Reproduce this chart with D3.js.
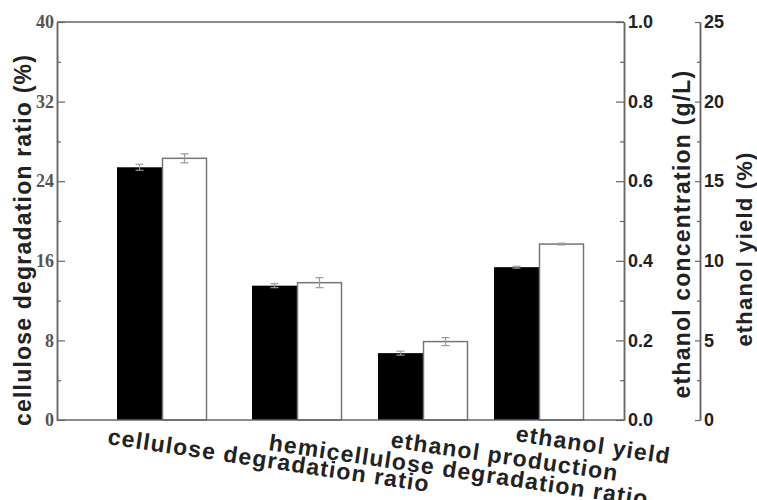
<!DOCTYPE html>
<html><head><meta charset="utf-8">
<script src="https://cdn.jsdelivr.net/npm/d3@7"></script>
<style>body{margin:0;background:#fff;}svg{display:block;}</style>
</head><body>
<svg id="c" width="757" height="500"></svg>
<script>
// ---- data ----
const categories = ["cellulose degradation ratio","hemicellulose degradation ratio","ethanol production","ethanol yield"];
const axisOf = ["ratio","ratio","conc","yield"];
const seriesA = [25.4, 13.5, 0.168, 9.6];     // black bars
const seriesB = [26.3, 13.8, 0.197, 11.05];   // white bars
const errA = [0.3, 0.2, 0.005, 0.06];
const errB = [0.45, 0.5, 0.01, 0.05];
const ratioTicks = [0, 8, 16, 24, 32, 40];
const concTicks = [0.0, 0.2, 0.4, 0.6, 0.8, 1.0];
const yieldTicks = [0, 5, 10, 15, 20, 25];

// ---- layout ----
const L = 57, R = 624, T = 22, B = 420, Y3 = 700;
const groupCenters = [162, 297, 423, 539];
const barW = 45;
const labelPos = [[107, 444], [268, 450], [390, 447], [515, 441]];

const svg = d3.select("#c");
const x = d3.scaleOrdinal().domain(categories).range(groupCenters);
const yRatio = d3.scaleLinear().domain([0, 40]).range([B, T]);
const yConc = d3.scaleLinear().domain([0, 1]).range([B, T]);
const yYield = d3.scaleLinear().domain([0, 25]).range([B, T]);
const scales = {ratio: yRatio, conc: yConc, yield: yYield};

const axisColor = "#666";

// bars
const rows = categories.map((c, i) => ({c, i, s: scales[axisOf[i]]}));
const g = svg.append("g");
rows.forEach(r => {
  const s = r.s, cx = x(r.c);
  g.append("rect").attr("x", cx - barW).attr("width", barW)
    .attr("y", s(seriesA[r.i])).attr("height", B - s(seriesA[r.i]))
    .attr("fill", "#000");
  g.append("rect").attr("x", cx + 0.5).attr("width", barW - 1)
    .attr("y", s(seriesB[r.i])).attr("height", B - s(seriesB[r.i]))
    .attr("fill", "#fff").attr("stroke", "#777").attr("stroke-width", 1.5);
  // error bars
  [[cx - barW / 2, seriesA[r.i], errA[r.i]], [cx + barW / 2, seriesB[r.i], errB[r.i]]].forEach(([ex, v, e]) => {
    const y1 = s(v + e), y2 = s(v - e);
    g.append("line").attr("x1", ex).attr("x2", ex).attr("y1", y1).attr("y2", y2).attr("stroke", "#999").attr("stroke-width", 1.2);
    [y1, y2].forEach(yy => g.append("line").attr("x1", ex - 4).attr("x2", ex + 4).attr("y1", yy).attr("y2", yy).attr("stroke", "#999").attr("stroke-width", 1.2));
  });
});

// frame
svg.append("line").attr("x1", L).attr("x2", R).attr("y1", T).attr("y2", T).attr("stroke", axisColor).attr("stroke-width", 1.5);
svg.append("line").attr("x1", L).attr("x2", R).attr("y1", B).attr("y2", B).attr("stroke", axisColor).attr("stroke-width", 1.5);

function styleAxis(sel) {
  sel.select(".domain").attr("stroke", axisColor).attr("stroke-width", 1.5);
  sel.selectAll(".tick line").attr("stroke", axisColor).attr("stroke-width", 1.2);
}

// left axis
const la = svg.append("g").attr("transform", `translate(${L},0)`)
  .call(d3.axisLeft(yRatio).tickValues(d3.range(4, 40, 8)).tickSizeInner(-4).tickSizeOuter(0).tickFormat(""));
styleAxis(la);
const lb = svg.append("g").attr("transform", `translate(${L},0)`)
  .call(d3.axisLeft(yRatio).tickValues(ratioTicks).tickSizeInner(-8).tickSizeOuter(0).tickPadding(3));
styleAxis(lb);
lb.selectAll("text").attr("font-family", "Liberation Serif").attr("font-weight", "bold").attr("font-size", 18).attr("fill", "#555");

// right axis (concentration)
const ra = svg.append("g").attr("transform", `translate(${R},0)`)
  .call(d3.axisRight(yConc).tickValues(d3.range(0.1, 1, 0.2)).tickSizeInner(-4).tickSizeOuter(0).tickFormat(""));
styleAxis(ra);
const rb = svg.append("g").attr("transform", `translate(${R},0)`)
  .call(d3.axisRight(yConc).tickValues(concTicks).tickSizeInner(-8).tickSizeOuter(0).tickPadding(4).tickFormat(d3.format(".1f")));
styleAxis(rb);
rb.selectAll("text").attr("font-family", "Liberation Sans").attr("font-weight", "bold").attr("font-size", 18).attr("fill", "#222");

// third axis (yield)
const ya = svg.append("g").attr("transform", `translate(${Y3},0)`)
  .call(d3.axisRight(yYield).tickValues(d3.range(2.5, 25, 5)).tickSizeInner(-3).tickSizeOuter(0).tickFormat(""));
styleAxis(ya);
const yb = svg.append("g").attr("transform", `translate(${Y3},0)`)
  .call(d3.axisRight(yYield).tickValues(yieldTicks).tickSizeInner(-5).tickSizeOuter(0).tickPadding(4));
styleAxis(yb);
yb.selectAll("text").attr("font-family", "Liberation Sans").attr("font-weight", "bold").attr("font-size", 18).attr("fill", "#222");

// axis titles
const tf = "Liberation Sans";
const ls = 1.2;
svg.append("text").attr("transform", `translate(31,240) rotate(-90)`).attr("text-anchor", "middle")
  .attr("font-family", tf).attr("font-weight", "bold").attr("font-size", 23).attr("letter-spacing", ls).attr("fill", "#222")
  .text("cellulose degradation ratio (%)");
svg.append("text").attr("transform", `translate(690,234) rotate(-90)`).attr("text-anchor", "middle")
  .attr("font-family", tf).attr("font-weight", "bold").attr("font-size", 23).attr("letter-spacing", ls).attr("fill", "#222")
  .text("ethanol concentration (g/L)");
svg.append("text").attr("transform", `translate(752,249) rotate(-90)`).attr("text-anchor", "middle")
  .attr("font-family", tf).attr("font-weight", "bold").attr("font-size", 22).attr("letter-spacing", ls).attr("fill", "#222")
  .text("ethanol yield (%)");

// category labels
categories.forEach((c, i) => {
  svg.append("text").attr("transform", `translate(${labelPos[i][0]},${labelPos[i][1]}) rotate(8.5)`)
    .attr("font-family", tf).attr("font-weight", "bold").attr("font-size", 23).attr("letter-spacing", ls).attr("fill", "#222")
    .text(c);
});
</script>
</body></html>
